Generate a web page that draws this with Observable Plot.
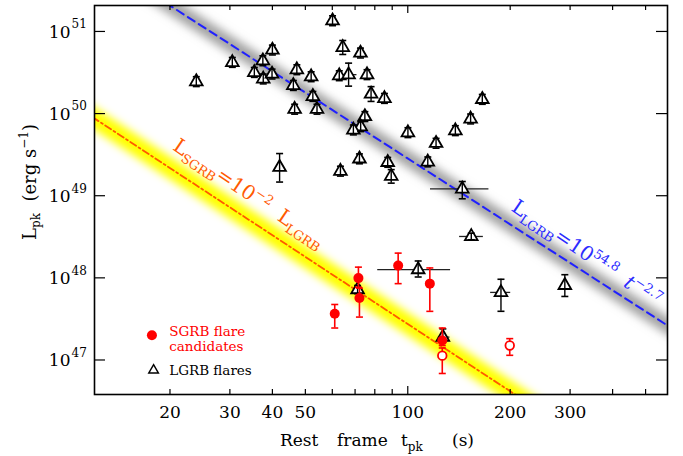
<!DOCTYPE html>
<html><head><meta charset="utf-8">
<script src="https://cdn.jsdelivr.net/npm/d3@7"></script>
<script src="https://cdn.jsdelivr.net/npm/@observablehq/plot@0.6"></script>
<style>body{margin:0;background:#fff} svg{display:block}</style>
</head><body><div id="chart"></div>
<script>
// ---- data ----
const lgrbT = [23.9,30.5,35.4,37.5,37.6,40.0,39.9,46.1,47.2,46.5,52.0,52.6,54.1,60.1,64.4,72.6,62.9,67.0,75.9,78.0,85.4,74.8,72.7,69.2,100.1,121.1,138.0,153.0,165.6,42.0,63.4,72.1,87.3,89.4,114.5,144.6,153.7,71.2,107.3,126.8,187.9,289.5];
const lgrbL = [2.45e50,4.2e50,3.17e50,4.4e50,2.64e50,5.94e50,3.03e50,2.2e50,3.42e50,1.13e50,2.81e50,1.62e50,1.13e50,1.35e51,6.38e50,5.46e50,2.89e50,2.98e50,2.98e50,1.73e50,1.53e50,9.2e49,6.93e49,6.32e49,5.86e49,4.35e49,6.2e49,8.6e49,1.49e50,2.22e49,1.99e49,2.81e49,2.55e49,1.73e49,2.58e49,1.21e49,3.19e48,7.2e47,1.26e48,1.9e47,6.65e47,8.1e47];
const lgrbErrUpDex = [0.06,0.06,0.06,0.06,0.06,0.06,0.06,0.06,0.06,0.06,0.06,0.06,0.06,0.06,0.085,0.06,0.06,0.14,0.06,0.09,0.06,0.06,0.06,0.06,0.06,0.06,0.06,0.06,0.06,0.167,0.06,0.06,0.06,0.08,0.06,0.09,0.04,0.05,0.105,0.1,0.16,0.13];
const lgrbErrDnDex = [0.06,0.06,0.06,0.06,0.06,0.06,0.06,0.06,0.06,0.06,0.06,0.06,0.06,0.06,0.085,0.06,0.06,0.14,0.06,0.09,0.06,0.06,0.06,0.06,0.06,0.06,0.06,0.06,0.06,0.18,0.06,0.06,0.06,0.085,0.06,0.12,0.04,0.05,0.09,0.05,0.23,0.135];
// horizontal error bars (index into LGRB arrays)
const hErrIdx = [17,35,36,38,39,40];
const hErrLo  = [64.7,116.6,142,81.6,123,175.2];
const hErrHi  = [70.9,173.2,166.8,133.6,133,200.7];

// SGRB flare candidates (filled)
const sgrbT  = [61.0,71.6,72.1,93.7,116.1,126.3];
const sgrbL  = [3.66e47,9.93e47,5.68e47,1.41e48,8.5e47,1.73e47];
const sgrbLo = [2.45e47,7.7e47,3.33e47,8.5e47,3.91e47,1.5e47];
const sgrbHi = [4.74e47,1.35e48,7.5e47,2.0e48,1.32e48,2.45e47];
// SGRB (open)
const openT  = [126.3,199.4];
const openL  = [1.13e47,1.5e47];
const openLo = [6.85e46,1.14e47];
const openHi = [1.4e47,1.82e47];

// fitted relations (endpoints)
const lgrbFitT = [10,600];
const lgrbFitL = [1.31e52,2.4e47];
const sgrbFitT = [10,600];
const sgrbFitL = [1.43e50,2.1e45];

// ticks
const xLabelTicks = [20,30,40,50,100,200,300];
const xMinorTicks = [20,30,40,50,60,70,80,90,200,300,400,500];
const xMajorTicks = [100];
const yTicks = [1e47,1e48,1e49,1e50,1e51];

// ---- build ----
const W = 683, H = 456, mL = 94, mR = 16, mT = 5, mB = 62;
const pW = W - mL - mR, pH = H - mT - mB;
const font = "'DejaVu Serif', 'Liberation Serif', serif";

const lgrb = lgrbT.map((t,i)=>({t, L:lgrbL[i], lo:lgrbL[i]/Math.pow(10,lgrbErrDnDex[i]), hi:lgrbL[i]*Math.pow(10,lgrbErrUpDex[i])}));
const lgrbH = hErrIdx.map((k,i)=>({L:lgrbL[k], x1:hErrLo[i], x2:hErrHi[i]}));
const sgrb = sgrbT.map((t,i)=>({t, L:sgrbL[i], lo:sgrbLo[i], hi:sgrbHi[i]}));
const open = openT.map((t,i)=>({t, L:openL[i], lo:openLo[i], hi:openHi[i]}));
const lFit = lgrbFitT.map((t,i)=>({t, L:lgrbFitL[i]}));
const sFit = sgrbFitT.map((t,i)=>({t, L:sgrbFitL[i]}));

const cap = {draw(ctx, size){ const w = Math.sqrt(size/Math.PI); ctx.moveTo(-w,0); ctx.lineTo(w,0); }};

const chart = Plot.plot({
  width: W, height: H,
  marginLeft: mL, marginRight: mR, marginTop: mT, marginBottom: mB,
  style: {fontFamily: font, background: "white"},
  x: {type: "log", domain: [12, 580], axis: null},
  y: {type: "log", domain: [3.8e46, 2.07e51], axis: null},
  marks: [
    Plot.line(lFit, {x:"t", y:"L", stroke:"#a0a0a0", strokeWidth:15, clip:true, ariaDescription:"greyband"}),
    Plot.line(sFit, {x:"t", y:"L", stroke:"#ffff00", strokeWidth:19, clip:true, ariaDescription:"yellowband"}),
    Plot.line(lFit, {x:"t", y:"L", stroke:"#2020ff", strokeWidth:2, strokeDasharray:"8,5", clip:true}),
    Plot.line(sFit, {x:"t", y:"L", stroke:"#ff5a00", strokeWidth:1.8, strokeDasharray:"7,3,2,3", clip:true}),
    // LGRB flares
    Plot.ruleY(lgrbH, {y:"L", x1:"x1", x2:"x2", stroke:"#222", strokeWidth:1.3}),
    Plot.dot(lgrb, {x:"t", y:"L", symbol:"triangle", r:4.7, fill:"white", stroke:"black", strokeWidth:1.8}),
    Plot.ruleX(lgrb, {x:"t", y1:"lo", y2:"hi", stroke:"black", strokeWidth:1.4}),
    Plot.dot(lgrb, {x:"t", y:"lo", symbol:cap, r:3.5, fill:"none", stroke:"black", strokeWidth:1.6}),
    Plot.dot(lgrb, {x:"t", y:"hi", symbol:cap, r:3.5, fill:"none", stroke:"black", strokeWidth:1.6}),
    // SGRB candidates
    Plot.ruleX(sgrb.concat(open), {x:"t", y1:"lo", y2:"hi", stroke:"#f00", strokeWidth:1.6}),
    Plot.dot(sgrb.concat(open), {x:"t", y:"lo", symbol:cap, r:3.5, fill:"none", stroke:"#f00", strokeWidth:1.6}),
    Plot.dot(sgrb.concat(open), {x:"t", y:"hi", symbol:cap, r:3.5, fill:"none", stroke:"#f00", strokeWidth:1.6}),
    Plot.dot(sgrb, {x:"t", y:"L", r:5, fill:"#f00", stroke:"none"}),
    Plot.dot(open, {x:"t", y:"L", r:4.3, fill:"white", stroke:"#f00", strokeWidth:1.8}),
    // legend
    Plot.dot([{t:17.7, L:2.0e47}], {x:"t", y:"L", r:5, fill:"#f00"}),
    Plot.text([{t:19.9, L:2.0e47}], {x:"t", y:"L", dy:-4, text:()=>"SGRB flare", textAnchor:"start", fill:"#f00", fontSize:13.5, fontFamily:font}),
    Plot.text([{t:19.9, L:2.0e47}], {x:"t", y:"L", dy:11, text:()=>"candidates", textAnchor:"start", fill:"#f00", fontSize:13.5, fontFamily:font}),
    Plot.dot([{t:17.9, L:7.5e46}], {x:"t", y:"L", symbol:"triangle", r:3.6, fill:"none", stroke:"black", strokeWidth:1.4}),
    Plot.text([{t:19.9, L:7.5e46}], {x:"t", y:"L", text:()=>"LGRB flares", textAnchor:"start", fill:"black", fontSize:13.5, fontFamily:font}),
    // frame & ticks
    Plot.frame({stroke:"black", strokeWidth:1.6}),
    Plot.ruleX(xMinorTicks, {x:d=>d, insetTop:pH-5, stroke:"black", strokeWidth:1.2}),
    Plot.ruleX(xMinorTicks, {x:d=>d, insetBottom:pH-5, stroke:"black", strokeWidth:1.2}),
    Plot.ruleX(xMajorTicks, {x:d=>d, insetTop:pH-8, stroke:"black", strokeWidth:1.2}),
    Plot.ruleX(xMajorTicks, {x:d=>d, insetBottom:pH-8, stroke:"black", strokeWidth:1.2}),
    Plot.ruleY(yTicks, {y:d=>d, insetRight:pW-11, stroke:"black", strokeWidth:1.2}),
    Plot.ruleY(yTicks, {y:d=>d, insetLeft:pW-11, stroke:"black", strokeWidth:1.2}),
    Plot.text(xLabelTicks, {x:d=>d, frameAnchor:"bottom", dy:23, text:d=>String(d), fontSize:17, fill:"black", fontFamily:font}),
    Plot.text(yTicks, {y:d=>d, frameAnchor:"left", dx:-24, dy:1, textAnchor:"end", text:()=>"10", fontSize:17, fill:"black", fontFamily:font}),
    Plot.text(yTicks, {y:d=>d, frameAnchor:"left", dx:-23, dy:-7, textAnchor:"start", text:d=>String(Math.round(Math.log10(d))), fontSize:12, fill:"black", fontFamily:font})
  ]
});

document.getElementById("chart").appendChild(chart);

const sx = chart.scale("x"), sy = chart.scale("y");
const svg = d3.select(chart);

// soft blurred bands
const defs = svg.insert("defs", ":first-child");
defs.append("filter").attr("id","blurGrey").attr("x","-10%").attr("y","-10%").attr("width","120%").attr("height","120%")
  .append("feGaussianBlur").attr("stdDeviation", 5);
defs.append("filter").attr("id","blurYellow").attr("x","-10%").attr("y","-10%").attr("width","120%").attr("height","120%")
  .append("feGaussianBlur").attr("stdDeviation", 4.5);
svg.selectAll('[aria-description="greyband"] path').attr("filter","url(#blurGrey)");
svg.selectAll('[aria-description="yellowband"] path').attr("filter","url(#blurYellow)");

// rich text annotations positioned through the plot's scales
function rich(px, py, angle, color, parts, size){
  const g = svg.append("g").attr("transform", `translate(${px},${py}) rotate(${angle})`);
  const t = g.append("text").attr("fill", color).attr("font-family", font).attr("font-size", size)
    .attr("text-anchor","start").style("white-space","pre");
  for (const [s, fs, dy, style] of parts) {
    const ts = t.append("tspan").attr("font-size", fs).attr("dy", dy).text(s);
    if (style) ts.attr("font-style", style);
  }
}
rich(sx.apply(20.3), sy.apply(3.65e49), 34, "#ff5a00",
  [["L",20,0],["SGRB",13,5],["=",20,-5],["10",20,0],["−2",13,-8],["  L",20,8],["LGRB",13,5]], 20);
rich(sx.apply(200.7), sy.apply(6.6e48), 34, "#2b2bff",
  [["L",20,0],["LGRB",13,5],["=",20,-5],["10",20,0],["54.8",13,-8],["  t",20,8,"italic"],["−2.7",13,-8]], 20);

// axis titles
const xt = svg.append("text").attr("font-family", font).attr("font-size", 17).attr("fill","black")
  .attr("text-anchor","start").style("white-space","pre").attr("y", 446);
xt.append("tspan").attr("x", 280).text("Rest");
xt.append("tspan").attr("x", 337).text("frame");
xt.append("tspan").attr("x", 401).text("t");
xt.append("tspan").attr("font-size", 12).attr("dy", 5).text("pk");
xt.append("tspan").attr("x", 452).attr("dy", -5).text("(s)");

const yt = svg.append("text").attr("font-family", font).attr("font-size", 18).attr("fill","black").style("white-space","pre")
  .attr("text-anchor","middle").attr("transform","translate(36,182) rotate(-90)");
yt.append("tspan").text("L");
yt.append("tspan").attr("font-size", 12).attr("dy", 4).text("pk");
yt.append("tspan").attr("dy", -4).text("  (erg s");
yt.append("tspan").attr("font-size", 12).attr("dy", -8).text("−1");
yt.append("tspan").attr("dy", 8).text(")");
</script>
</body></html>
